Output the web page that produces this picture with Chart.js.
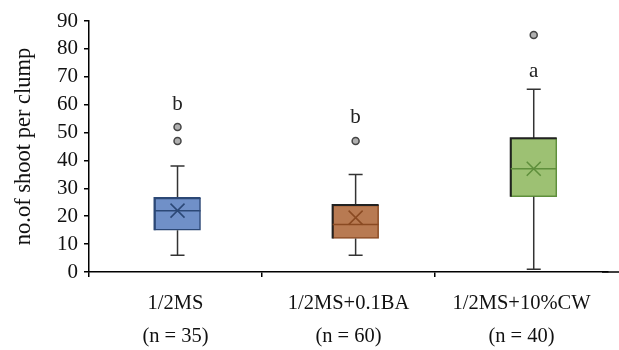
<!DOCTYPE html>
<html>
<head>
<meta charset="utf-8">
<script src="https://cdn.jsdelivr.net/npm/chart.js@4"></script>
<style>
html,body{margin:0;padding:0;background:#fff;}
#wrap{width:619px;height:350px;position:relative;}
</style>
</head>
<body>
<div id="wrap"><canvas id="c"></canvas></div>
<script>
// ---- data ----
const categories = ['1/2MS', '1/2MS+0.1BA', '1/2MS+10%CW'];
const sampleSizes = ['(n = 35)', '(n = 60)', '(n = 40)'];
const whiskerLow = [6, 6, 1];
const q1 = [15, 12, 27];
const median = [22, 17, 37];
const q3 = [26.5, 24, 48];
const whiskerHigh = [38, 35, 65.5];
const means = [22, 19.5, 37];
const outliers = [[52, 47], [47], [85]];
const letters = ['b', 'b', 'a'];
const letterY = [60, 55.5, 72];
const yTicks = [0, 10, 20, 30, 40, 50, 60, 70, 80, 90];

const fills = ['#7090c8', '#b87a52', '#9dc173'];
const borders = ['#2c4876', '#8a4a22', '#5f8f3c'];
const topEdge = ['#2c4876', '#222222', '#222222'];
const FONT = 'Liberation Serif, "Times New Roman", serif';

const positions = categories.map((_, i) => i + 1);
const boxData = positions.map((p, i) => ({x: p, y: [q1[i], q3[i]]}));
const outlierData = [];
outliers.forEach((arr, i) => arr.forEach(v => outlierData.push({x: positions[i], y: v})));

const boxPlugin = {
  id: 'boxExtras',
  afterDatasetsDraw(chart) {
    const ctx = chart.ctx;
    const xs = chart.scales.xb, ys = chart.scales.y;
    const meta = chart.getDatasetMeta(0);
    ctx.save();
    positions.forEach((p, i) => {
      const cx = xs.getPixelForValue(p);
      const bar = meta.data[i];
      const half = bar.width / 2;
      // whiskers
      ctx.strokeStyle = '#333';
      ctx.lineWidth = 1.5;
      ctx.beginPath();
      ctx.moveTo(cx, ys.getPixelForValue(q3[i]));
      ctx.lineTo(cx, ys.getPixelForValue(whiskerHigh[i]));
      ctx.moveTo(cx, ys.getPixelForValue(q1[i]));
      ctx.lineTo(cx, ys.getPixelForValue(whiskerLow[i]));
      const capHi = ys.getPixelForValue(whiskerHigh[i]);
      const capLo = ys.getPixelForValue(whiskerLow[i]);
      ctx.moveTo(cx - 7, capHi); ctx.lineTo(cx + 7, capHi);
      ctx.moveTo(cx - 7, capLo); ctx.lineTo(cx + 7, capLo);
      ctx.stroke();
      // top / left edge
      const yTop = ys.getPixelForValue(q3[i]);
      const yBot = ys.getPixelForValue(q1[i]);
      ctx.strokeStyle = topEdge[i];
      ctx.lineWidth = 2;
      ctx.beginPath();
      ctx.moveTo(cx - half, yBot);
      ctx.lineTo(cx - half, yTop);
      ctx.lineTo(cx + half, yTop);
      ctx.stroke();
      // median
      const ym = ys.getPixelForValue(median[i]);
      ctx.strokeStyle = borders[i];
      ctx.lineWidth = 1.5;
      ctx.beginPath();
      ctx.moveTo(cx - half, ym); ctx.lineTo(cx + half, ym);
      ctx.stroke();
      // mean X
      const ymean = ys.getPixelForValue(means[i]);
      ctx.beginPath();
      ctx.moveTo(cx - 7, ymean - 7); ctx.lineTo(cx + 7, ymean + 7);
      ctx.moveTo(cx + 7, ymean - 7); ctx.lineTo(cx - 7, ymean + 7);
      ctx.stroke();
      // significance letters
      ctx.fillStyle = '#222';
      ctx.font = '21px ' + FONT;
      ctx.textAlign = 'center';
      ctx.textBaseline = 'middle';
      ctx.fillText(letters[i], cx, ys.getPixelForValue(letterY[i]));
    });
    // extend x axis line to right edge
    const yb = chart.chartArea.bottom;
    ctx.strokeStyle = '#000';
    ctx.lineWidth = 1.5;
    ctx.beginPath();
    ctx.moveTo(chart.chartArea.right - 6, yb);
    ctx.lineTo(chart.width, yb);
    ctx.stroke();
    ctx.restore();
  }
};

new Chart(document.getElementById('c'), {
  type: 'bar',
  data: {
    labels: categories.map((c, i) => [c, sampleSizes[i]]),
    datasets: [
      {
        type: 'bar',
        data: boxData,
        xAxisID: 'xb',
        yAxisID: 'y',
        backgroundColor: fills,
        borderColor: borders,
        borderWidth: 1.5,
        borderSkipped: false,
        barThickness: 46
      },
      {
        type: 'scatter',
        data: outlierData,
        xAxisID: 'xb',
        yAxisID: 'y',
        pointRadius: 3.5,
        pointBackgroundColor: '#b0b0b0',
        pointBorderColor: '#444',
        pointBorderWidth: 1.5
      }
    ]
  },
  options: {
    responsive: true,
    maintainAspectRatio: false,
    animation: false,
    devicePixelRatio: 1,
    layout: {padding: {top: 21, right: 11, left: 0, bottom: 0}},
    plugins: {legend: {display: false}, tooltip: {enabled: false}},
    scales: {
      x: {
        type: 'category',
        position: 'bottom',
        offset: true,
        grid: {
          display: true, drawOnChartArea: false, drawTicks: true, tickLength: 5, offset: true,
          color: (ctx) => (ctx.type === 'tick' ? '#000' : 'rgba(0,0,0,0)'),
          lineWidth: 1.5
        },
        border: {display: true, color: '#000', width: 1.5},
        ticks: {
          color: '#111', padding: 10, maxRotation: 0, autoSkip: false,
          font: {family: FONT, size: 20.5, lineHeight: 1.6}
        },
        afterFit: (s) => { s.height = 78; }
      },
      xb: {
        type: 'linear',
        display: false,
        offset: false,
        bounds: 'ticks',
        min: 0.503,
        max: 3.417
      },
      y: {
        min: 0, max: 90,
        afterBuildTicks: (s) => { s.ticks = yTicks.map(v => ({value: v})); },
        grid: {display: true, drawOnChartArea: false, drawTicks: true, tickLength: 5, color: '#000', lineWidth: 1.5},
        border: {display: true, color: '#000', width: 1.5},
        ticks: {color: '#111', padding: 6, autoSkip: false, font: {family: FONT, size: 21, lineHeight: 1}},
        title: {display: true, text: 'no.of shoot per clump', color: '#111', font: {family: FONT, size: 22.5}, padding: {top: 11, bottom: 0}},
        afterFit: (s) => { s.width = 89; }
      }
    }
  },
  plugins: [boxPlugin]
});
</script>
</body>
</html>
